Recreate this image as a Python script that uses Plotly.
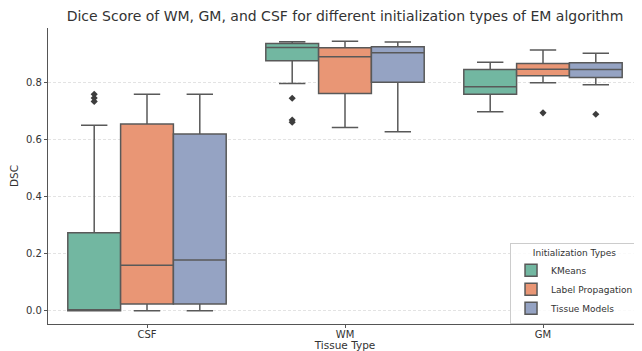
import plotly.graph_objects as go

tissues = ["CSF", "WM", "GM"]
methods = ["KMeans", "Label Propagation", "Tissue Models"]
colors = ["#72b7a1", "#e99675", "#95a3c3"]

q1 = {
    "KMeans": [0.0, 0.875, 0.758],
    "Label Propagation": [0.024, 0.761, 0.823],
    "Tissue Models": [0.024, 0.800, 0.817],
}
median = {
    "KMeans": [0.0, 0.922, 0.784],
    "Label Propagation": [0.160, 0.889, 0.846],
    "Tissue Models": [0.178, 0.903, 0.845],
}
q3 = {
    "KMeans": [0.273, 0.936, 0.845],
    "Label Propagation": [0.654, 0.921, 0.866],
    "Tissue Models": [0.619, 0.924, 0.868],
}
lower = {
    "KMeans": [0.0, 0.796, 0.697],
    "Label Propagation": [0.0, 0.642, 0.798],
    "Tissue Models": [0.0, 0.627, 0.791],
}
upper = {
    "KMeans": [0.650, 0.942, 0.870],
    "Label Propagation": [0.758, 0.944, 0.913],
    "Tissue Models": [0.758, 0.941, 0.902],
}
outliers = {
    "KMeans": [[0.733, 0.745, 0.758], [0.744, 0.660, 0.668], []],
    "Label Propagation": [[], [], [0.693]],
    "Tissue Models": [[], [], [0.688]],
}

group_width = 0.8
n = len(methods)
bw = group_width / n

fig = go.Figure()
for j, (m, c) in enumerate(zip(methods, colors)):
    off = (j - (n - 1) / 2) * bw
    pos = [i + off for i in range(len(tissues))]
    fig.add_trace(go.Box(
        name=m,
        x=pos,
        q1=q1[m], median=median[m], q3=q3[m],
        lowerfence=lower[m], upperfence=upper[m],
        width=bw,
        boxpoints=False,
        fillcolor=c,
        line=dict(color="#595959", width=1.5),
        whiskerwidth=0.5,
        legendgroup=m,
    ))
    ox, oy = [], []
    for i, vals in enumerate(outliers[m]):
        for v in vals:
            ox.append(pos[i])
            oy.append(v)
    if ox:
        fig.add_trace(go.Scatter(
            x=ox, y=oy, mode="markers", showlegend=False, legendgroup=m,
            marker=dict(symbol="diamond", size=5.5, color="#3d3d3d"),
            hoverinfo="y",
        ))

fig.update_layout(
    width=634, height=343,
    margin=dict(l=40, r=0, t=20, b=27),
    paper_bgcolor="white", plot_bgcolor="white",
    font=dict(family="DejaVu Sans", size=10, color="#333333"),
    title=dict(text="Dice Score of WM, GM, and CSF for different initialization types of EM algorithm",
               x=0.5, xref="paper", xanchor="center", y=0.975, yanchor="middle",
               font=dict(size=14, color="#333333")),
    xaxis=dict(
        range=[-0.5, 2.5], showline=True, linecolor="#555555", linewidth=1.2,
        tickvals=list(range(len(tissues))), ticktext=tissues,
        ticks="outside", ticklen=3, tickcolor="#555555", showgrid=False, zeroline=False,
        automargin=False, ticklabelstandoff=-2,
        title=dict(text="Tissue Type", standoff=0, font=dict(size=10.5)),
    ),
    yaxis=dict(
        range=[-0.046, 0.99], showline=True, linecolor="#555555", linewidth=1.2,
        ticks="outside", ticklen=3, tickcolor="#555555",
        tickvals=[0.0, 0.2, 0.4, 0.6, 0.8], tickformat=".1f",
        showgrid=True, gridcolor="#e3e3e3", griddash="3px,2px", gridwidth=0.8,
        zeroline=False, automargin=False,
        title=dict(text="DSC", standoff=5, font=dict(size=10.5)),
    ),
    legend=dict(
        title=dict(text="Initialization Types", side="top center", font=dict(size=9)),
        x=0.995, xanchor="right", y=0.0, yanchor="bottom",
        bgcolor="rgba(255,255,255,0.8)", bordercolor="#cccccc", borderwidth=1,
        font=dict(size=9), tracegroupgap=0, itemwidth=30,
    ),
    showlegend=True,
)

fig.write_html("out.html")
